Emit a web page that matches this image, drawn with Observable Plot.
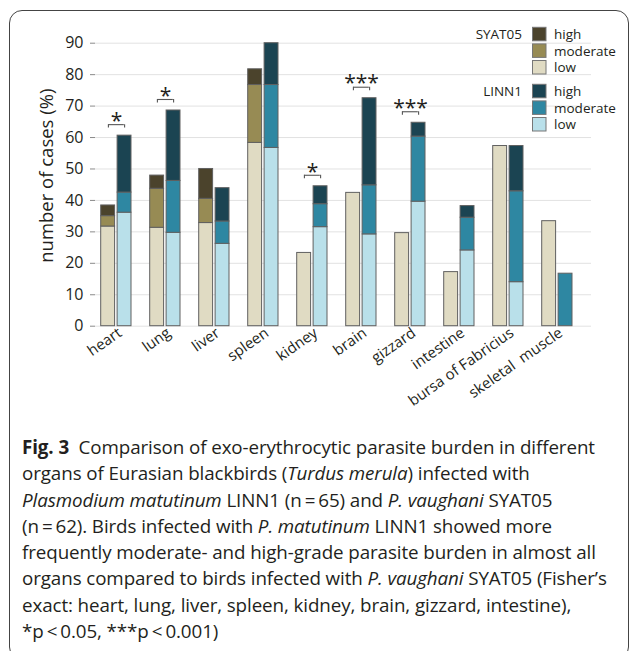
<!DOCTYPE html>
<html><head><meta charset="utf-8">
<script src="https://cdn.jsdelivr.net/npm/d3@7"></script>
<script src="https://cdn.jsdelivr.net/npm/@observablehq/plot@0.6"></script>
<style>
html,body{margin:0;padding:0;background:#fff;}
#page{position:relative;width:630px;height:651px;overflow:hidden;font-family:"Open Sans",sans-serif;color:#231f20;}
#frame{position:absolute;left:9px;top:10px;width:620px;height:650px;border:1.3px solid #444;border-radius:13px;box-sizing:border-box;}
#chart{position:absolute;left:0;top:0;}
#legend{position:absolute;left:0;top:0;}
#caption{position:absolute;left:22px;top:434px;font-size:18.8px;line-height:26.3px;white-space:nowrap;letter-spacing:-0.1px;}
#caption b{font-weight:700;}
</style></head>
<body>
<div id="page">
  <div id="frame"></div>
  <div id="chart"></div>
  <svg id="legend" width="630" height="150"></svg>
  <div id="caption"><b>Fig. 3</b>&nbsp; Comparison of exo-erythrocytic parasite burden in different<br>organs of Eurasian blackbirds (<i>Turdus merula</i>) infected with<br><i>Plasmodium matutinum</i> LINN1 (n&#8201;=&#8201;65) and <i>P. vaughani</i> SYAT05<br>(n&#8201;=&#8201;62). Birds infected with <i>P. matutinum</i> LINN1 showed more<br>frequently moderate- and high-grade parasite burden in almost all<br>organs compared to birds infected with <i>P. vaughani</i> SYAT05 (Fisher’s<br>exact: heart, lung, liver, spleen, kidney, brain, gizzard, intestine),<br>*p&#8201;&lt;&#8201;0.05, ***p&#8201;&lt;&#8201;0.001)</div>
</div>
<script>
const organs = ["heart", "lung", "liver", "spleen", "kidney", "brain", "gizzard", "intestine", "bursa of Fabricius", "skeletal\u00a0\u00a0muscle"];
const levels = ["low", "moderate", "high"];
const strains = ["SYAT05", "LINN1"];
// SYAT05 (P. vaughani), % of cases
const syatLow      = [31.7, 31.3, 32.8, 58.3, 23.3, 42.4, 29.6, 17.2, 57.3, 33.4];
const syatModerate = [3.3, 12.4, 7.7, 18.4, 0, 0, 0, 0, 0, 0];
const syatHigh     = [3.4, 4.2, 9.5, 5.0, 0, 0, 0, 0, 0, 0];
// LINN1 (P. matutinum), % of cases
const linnLow      = [36.1, 29.7, 26.2, 56.7, 31.5, 29.2, 39.6, 24.1, 14.0, 0];
const linnModerate = [6.4, 16.5, 7.1, 20.0, 7.3, 15.6, 20.7, 10.4, 28.9, 16.7];
const linnHigh     = [18.1, 22.4, 10.6, 13.3, 5.7, 27.7, 4.4, 3.7, 14.4, 0];
// significance (Fisher's exact)
const sigOrgans = ["heart", "lung", "kidney", "brain", "gizzard"];
const sigLabels = ["*", "*", "*", "***", "***"];
const yTicks = [0, 10, 20, 30, 40, 50, 60, 70, 80, 90];

const colorKeys = ["SYAT05 high", "SYAT05 moderate", "SYAT05 low", "LINN1 high", "LINN1 moderate", "LINN1 low"];
const colorRange = ["#4b432c", "#978b54", "#e0dbc3", "#1b4452", "#2e87a2", "#b9e0ea"];

function rows(strain, series) {
  const out = [];
  organs.forEach((organ, i) => {
    levels.forEach((level, j) => {
      const v = series[j][i];
      if (v > 0) out.push({organ, strain, level, key: strain + " " + level, value: v});
    });
  });
  return out;
}
const syatRows = rows("SYAT05", [syatLow, syatModerate, syatHigh]);
const linnRows = rows("LINN1", [linnLow, linnModerate, linnHigh]);
const linnTotal = organs.map((o, i) => linnLow[i] + linnModerate[i] + linnHigh[i]);
const sig = sigOrgans.map((organ, k) => ({organ, label: sigLabels[k], y: linnTotal[organs.indexOf(organ)] + 3.5}));

const barStroke = "#606060";
const plot = Plot.plot({
  width: 630, height: 430,
  marginLeft: 95, marginRight: 39, marginTop: 42.7, marginBottom: 104.3,
  style: {fontFamily: "Open Sans", fontSize: "16px", color: "#231f20", background: "transparent", overflow: "visible"},
  x: {domain: organs, padding: 0, label: null},
  y: {domain: [0, 90], label: null},
  color: {domain: colorKeys, range: colorRange},
  marks: [
    Plot.gridY(yTicks, {stroke: "#e2e2e2", strokeOpacity: 1}),
    Plot.barY(syatRows, {x: "organ", y: "value", fill: "key", stroke: barStroke, strokeWidth: 1, insetLeft: 2.7, insetRight: 32.4}),
    Plot.barY(linnRows, {x: "organ", y: "value", fill: "key", stroke: barStroke, strokeWidth: 1, insetLeft: 19.1, insetRight: 16}),
    Plot.tickY(sig, {x: "organ", y: "y", insetLeft: 10.2, insetRight: 23.2, stroke: "#555", strokeWidth: 1.1}),
    Plot.ruleX(sig, {x: "organ", y1: "y", y2: d => d.y - 1.1, dx: -14.6, stroke: "#555", strokeWidth: 1.1}),
    Plot.ruleX(sig, {x: "organ", y1: "y", y2: d => d.y - 1.1, dx: 1.6, stroke: "#555", strokeWidth: 1.1}),
    Plot.text(sig, {x: "organ", y: "y", text: "label", dx: -6.5, dy: -3.5, fontSize: 21, fill: "#231f20"}),
    Plot.axisY({ticks: yTicks, tickSize: 5, tickPadding: 7, stroke: "#8a8a8a", fill: "#231f20", line: true, fontSize: 16, label: null}),
    Plot.axisX({tickSize: 0, tickRotate: -35, tickPadding: 5, stroke: "#999", strokeWidth: 1.6, fill: "#231f20", line: true, fontSize: 15, dx: -3, label: null}),
    Plot.text(["number of cases (%)"], {frameAnchor: "left", dx: -48, dy: -9, rotate: -90, fontSize: 18.5, fill: "#231f20", textAnchor: "middle"})
  ]
});
document.getElementById("chart").appendChild(plot);

// legend
const legend = d3.select("#legend");
const groups = [{strain: "SYAT05", y0: 27.3}, {strain: "LINN1", y0: 84.3}];
const legendLevels = ["high", "moderate", "low"];
groups.forEach(g => {
  legend.append("text").attr("x", 522).attr("y", g.y0 + 7).attr("dy", "0.35em")
    .attr("text-anchor", "end").attr("font-family", "Open Sans").attr("font-size", 13.5).attr("fill", "#231f20").text(g.strain);
  legendLevels.forEach((lv, i) => {
    const yy = g.y0 + i * 16.6;
    legend.append("rect").attr("x", 532.5).attr("y", yy).attr("width", 13.5).attr("height", 13.5)
      .attr("fill", colorRange[colorKeys.indexOf(g.strain + " " + lv)]).attr("stroke", "#777").attr("stroke-width", 1);
    legend.append("text").attr("x", 554).attr("y", yy + 7).attr("dy", "0.35em")
      .attr("font-family", "Open Sans").attr("font-size", 13.5).attr("fill", "#231f20").text(lv);
  });
});
</script>
</body></html>
